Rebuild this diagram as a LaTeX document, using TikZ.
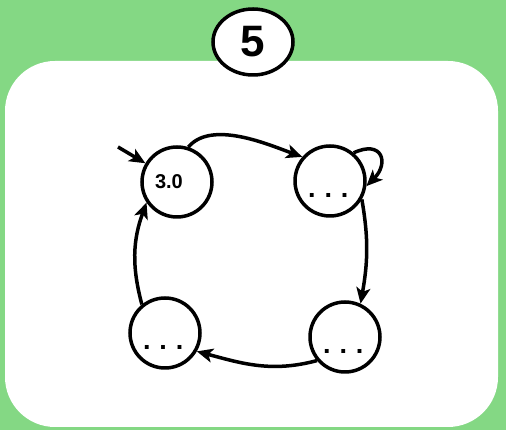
\documentclass[tikz,border=0pt]{standalone}
\usepackage{fontspec}
\setmainfont{Liberation Sans}
\usetikzlibrary{arrows.meta,shapes.geometric}

\tikzset{
    state/.style={circle, draw=borderColour, line width=3.5pt, fill=white,
        minimum size=70pt, inner sep=0pt, text width=44pt, align=left},
    startstate/.style={state, font=\fontsize{20}{22}\selectfont\bfseries},
    openstate/.style={state, font=\fontsize{27}{28}\selectfont\bfseries,
        text height=34pt, text depth=0pt},
    edge/.style={draw=borderColour, line width=3.5pt,
        -{Stealth[length=16pt,width=14pt,inset=4pt]}}
}

\begin{document}
\begin{tikzpicture}[x=1pt, y=1pt]
    \definecolor{borderColour}{HTML}{000000}
    \definecolor{fillColourA}{HTML}{84D884}

    % Background and card
    \fill[fillColourA] (0,0) rectangle (506,430);
    \useasboundingbox (0,0) rectangle (506,430);
    \fill[white, rounded corners=50pt] (5,3) rectangle (498,369);

    % Step badge
    \node[ellipse, draw=borderColour, line width=3.5pt, fill=white,
        minimum width=80pt, minimum height=66pt, inner sep=0pt,
        font=\fontsize{44}{46}\selectfont\bfseries] (badge) at (253,388) {5};

    % States
    \node[startstate] (s0) at (177,248) {3.0};
    \node[openstate] (s1) at (330,249) {.\ .\ .};
    \node[openstate] (s2) at (345,93) {.\ .\ .};
    \node[openstate] (s3) at (165,97) {.\ .\ .};

    % Initial arrow
    \coordinate (init) at (118,283);
    \draw[edge] (init) -- (s0);

    % Transitions
    \draw[edge] (s0.72) to[out=50, in=160, looseness=0.8] (s1.139);
    \draw[edge] (s1.50) to[out=25, in=45, looseness=2.3] (s1.-8);
    \draw[edge] (s1.-30) to[out=-80, in=80] (s2.65);
    \draw[edge] (s2.220) to[out=195, in=-15] (s3.-30);
    \draw[edge] (s3.129) to[out=105, in=250] (s0.214);

\end{tikzpicture}
\end{document}
